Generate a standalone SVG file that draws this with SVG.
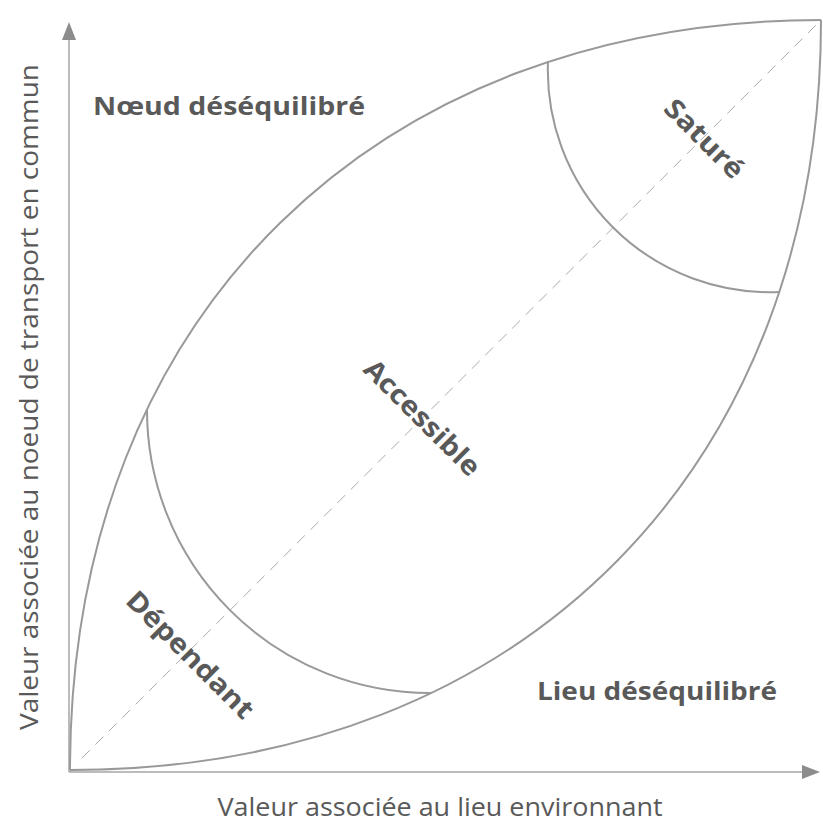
<svg xmlns="http://www.w3.org/2000/svg" width="823" height="826" viewBox="0 0 823 826">
<style>
.ln{fill:none;stroke:#999;stroke-width:2}
.ax{fill:none;stroke:#a6a6a6;stroke-width:1.5}
.lbl{font-family:"Open Sans","Noto Sans","Liberation Sans",sans-serif;font-weight:bold;fill:#595959;font-size:25.5px}
.rl{font-family:"Open Sans","Noto Sans","Liberation Sans",sans-serif;font-weight:bold;fill:#595959;font-size:27px}
.axl{font-family:"Open Sans","Noto Sans","Liberation Sans",sans-serif;fill:#595959;font-size:25px}
</style>
<rect width="823" height="826" fill="#fff"/>
<g id="connectors">
<line x1="82" y1="758" x2="818" y2="23" stroke="#aaa" stroke-width="1" stroke-dasharray="11 8"/>
<line class="ax" x1="69" y1="772" x2="69" y2="38"/>
<polygon points="69,22 62,40 76,40" fill="#8c8c8c"/>
<line class="ax" x1="69" y1="772" x2="804" y2="772"/>
<polygon points="820,772 802,765 802,779" fill="#8c8c8c"/>
</g>
<g id="lens">
<path class="ln" d="M70,770 C70,310 381,20 821,20"/>
<path class="ln" d="M70,770 C530,770 821,460 821,20"/>
</g>
<g id="arcs">
<path class="ln" d="M147,409 A283,283 0 0 0 431,693"/>
<path class="ln" d="M548,61 A222,222 0 0 0 779,292"/>
</g>
<g id="node-noeud"><text class="lbl" x="93" y="115" textLength="272" lengthAdjust="spacingAndGlyphs">Nœud déséquilibré</text></g>
<g id="node-lieu"><text class="lbl" x="537" y="700" textLength="240" lengthAdjust="spacingAndGlyphs">Lieu déséquilibré</text></g>
<g id="node-sature"><text class="rl" text-anchor="middle" transform="translate(704,139) rotate(45)" x="0" y="9" textLength="100" lengthAdjust="spacingAndGlyphs">Saturé</text></g>
<g id="node-accessible"><text class="rl" text-anchor="middle" transform="translate(422,418) rotate(45)" x="0" y="9" textLength="152" lengthAdjust="spacingAndGlyphs">Accessible</text></g>
<g id="node-dependant"><text class="rl" text-anchor="middle" transform="translate(190,655) rotate(45)" x="0" y="9" textLength="168" lengthAdjust="spacingAndGlyphs">Dépendant</text></g>
<g id="axis-x-label"><text class="axl" x="440" y="816" text-anchor="middle" textLength="445" lengthAdjust="spacingAndGlyphs">Valeur associée au lieu environnant</text></g>
<g id="axis-y-label"><text class="axl" transform="translate(38,397) rotate(-90)" x="0" y="0" text-anchor="middle" textLength="666" lengthAdjust="spacingAndGlyphs">Valeur associée au noeud de transport en commun</text></g>
</svg>
